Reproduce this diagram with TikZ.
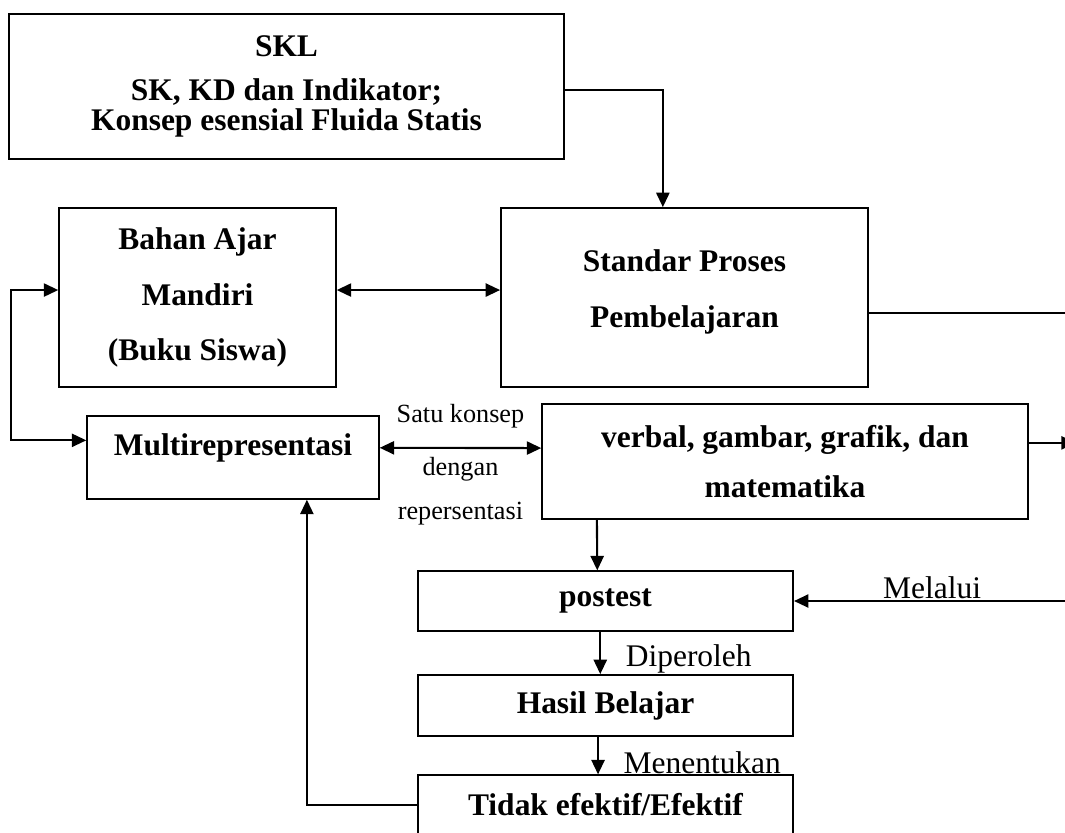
\documentclass[tikz,border=0pt]{standalone}
\usepackage{fontspec}
\setmainfont{Liberation Serif}
\usetikzlibrary{arrows.meta}
\usetikzlibrary{positioning}

\begin{document}
\begin{tikzpicture}[
    x=0.0134cm, y=-0.0134cm,
    box/.style={draw, line width=0.6pt, align=center, inner sep=0pt,
        font=\fontsize{12}{14.5}\selectfont\bfseries},
    arr/.style={-{Triangle[length=5.5pt, width=5pt]}, line width=0.8pt},
    dblarr/.style={{Triangle[length=5.5pt, width=5pt]}-{Triangle[length=5.5pt, width=5pt]}, line width=0.8pt},
    note/.style={font=\fontsize{10}{12}\selectfont},
    bignote/.style={font=\fontsize{12}{14.5}\selectfont}
]

\clip (0,0) rectangle (1065,832);

% --- Top boxes ---
\node[box, minimum width=7.44cm, minimum height=1.94cm] (skl) at (286.5,86.5)
    {SKL\\[2.2pt]SK, KD dan Indikator;\\[-2.7pt]Konsep esensial Fluida Statis};
\node[box, minimum width=3.71cm, minimum height=2.40cm] (bahan) at (197.5,297.5)
    {Bahan Ajar\\[6.8pt]Mandiri\\[6.8pt](Buku Siswa)};
\node[box, minimum width=4.92cm, minimum height=2.40cm, text depth=6.5pt] (standar) at (684.5,297.5)
    {Standar Proses\\[6.8pt]Pembelajaran};

% --- Middle boxes ---
\node[box, minimum width=3.91cm, minimum height=1.11cm, text depth=10pt] (multi) at (233,457.5)
    {Multirepresentasi};
\node[box, minimum width=6.51cm, minimum height=1.54cm] (verbal) at (785,461.5)
    {verbal, gambar, grafik, dan\\[4.5pt]matematika};

% --- Bottom boxes ---
\node[box, minimum width=5.03cm, minimum height=0.80cm] (postest) at (605.5,601) {postest};
\node[box, minimum width=5.03cm, minimum height=0.82cm] (hasil) at (605.5,705.5) {Hasil Belajar};
\node[box, minimum width=5.03cm, minimum height=0.80cm] (tidak) at (605.5,805) {Tidak efektif/Efektif};

\coordinate (vout) at ([yshift=0.25cm, xshift=0.63cm]verbal.east);

% --- Connectors ---
\draw[arr] ([yshift=-0.05cm]skl.east) -| ([xshift=-0.29cm]standar.north);
\draw[dblarr] ([yshift=0.1cm]bahan.east) -- ([yshift=0.1cm]standar.west);
\draw[dblarr] ([yshift=0.1cm]bahan.west) -- ++(-0.63cm,0) |- ([yshift=0.23cm]multi.west);
\draw[dblarr] ([yshift=0.13cm]multi.east) -- ([yshift=0.18cm]verbal.west)
    node[note, midway, above=4pt] (satu) {Satu konsep}
    node[note, midway, below, align=center] (dengan) {dengan\\[4.7pt]repersentasi};
\draw[arr] ([yshift=0.25cm]verbal.east) -- (vout);
\draw[arr] ([yshift=-0.21cm]standar.east) -- ++(2.85cm,0) |- (postest.east)
    node[bignote, pos=0.76, above, inner sep=0.5pt] (melalui) {Melalui};
\draw[arr] ([xshift=-2.52cm]verbal.south) -- ([xshift=-0.11cm]postest.north);
\draw[arr] ([xshift=-0.07cm]postest.south) -- ([xshift=-0.07cm]hasil.north)
    node[bignote, pos=0.64, right=6pt] (diperoleh) {Diperoleh};
\draw[arr] ([xshift=-0.1cm]hasil.south) -- ([xshift=-0.1cm]tidak.north)
    node[bignote, pos=0.7, right=6pt] (menentukan) {Menentukan};
\draw[arr] (tidak.west) -| ([xshift=0.99cm]multi.south);

\end{tikzpicture}
\end{document}
